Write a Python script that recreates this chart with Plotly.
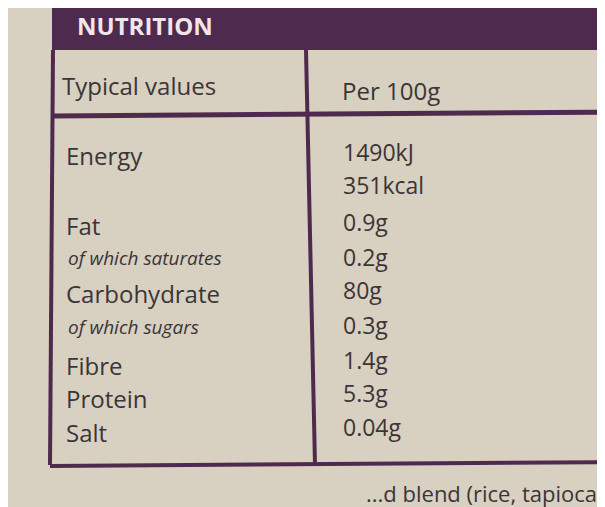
import plotly.graph_objects as go

header_title = "NUTRITION"
col_headers = ["Typical values", "Per 100g"]
nutrients = ["Energy", "Fat", "of which saturates", "Carbohydrate",
             "of which sugars", "Fibre", "Protein", "Salt"]
nutrient_italic = [False, False, True, False, True, False, False, False]
nutrient_y = [155, 225, 258, 293, 327, 365, 398, 432]
values = ["1490kJ", "351kcal", "0.9g", "0.2g", "80g", "0.3g", "1.4g", "5.3g", "0.04g"]
value_y = [152, 185, 222, 257, 290, 325, 360, 393, 427]
footer_text = "...d blend (rice, tapioca,"

ink = "#3b3538"
purple = "#4f2a4f"

fig = go.Figure()
fig.add_trace(go.Scatter(x=[8, 613], y=[8, 515], mode="markers",
                         marker=dict(opacity=0), hoverinfo="skip", showlegend=False))

shapes = [
    dict(type="rect", x0=52, x1=620, y0=0, y1=50, fillcolor=purple, line_width=0, layer="below"),
    dict(type="line", x0=53, x1=50, y0=50, y1=465, line=dict(color=purple, width=4)),
    dict(type="line", x0=306, x1=315, y0=50, y1=465, line=dict(color=purple, width=4)),
    dict(type="line", x0=52, x1=620, y0=116, y1=112, line=dict(color=purple, width=5)),
    dict(type="line", x0=50, x1=620, y0=466, y1=462, line=dict(color=purple, width=4)),
]

ann = [dict(x=75, y=25, text="<b>" + header_title + "</b>", showarrow=False,
            xanchor="left", font=dict(size=24, color="#efe6ea"))]
ann.append(dict(x=60, y=85, text=col_headers[0], showarrow=False, xanchor="left",
                font=dict(size=24, color=ink)))
ann.append(dict(x=340, y=90, text=col_headers[1], showarrow=False, xanchor="left",
                font=dict(size=24, color=ink)))
for name, it, y in zip(nutrients, nutrient_italic, nutrient_y):
    ann.append(dict(x=64 if not it else 66, y=y, text="<i>" + name + "</i>" if it else name,
                    showarrow=False, xanchor="left",
                    font=dict(size=19 if it else 24, color=ink)))
for v, y in zip(values, value_y):
    ann.append(dict(x=341, y=y, text=v, showarrow=False, xanchor="left",
                    font=dict(size=23, color=ink)))
ann.append(dict(x=605, y=493, text=footer_text, showarrow=False, xanchor="right",
                font=dict(size=22, color=ink)))

fig.update_layout(
    width=605, height=507,
    margin=dict(l=0, r=0, t=0, b=0),
    paper_bgcolor="#d8d0c0", plot_bgcolor="#d8d0c0",
    font=dict(family="Open Sans", color=ink),
    xaxis=dict(range=[8, 613], visible=False, fixedrange=True),
    yaxis=dict(range=[515, 8], visible=False, fixedrange=True),
    shapes=shapes, annotations=ann,
)

fig.write_html("out.html")
